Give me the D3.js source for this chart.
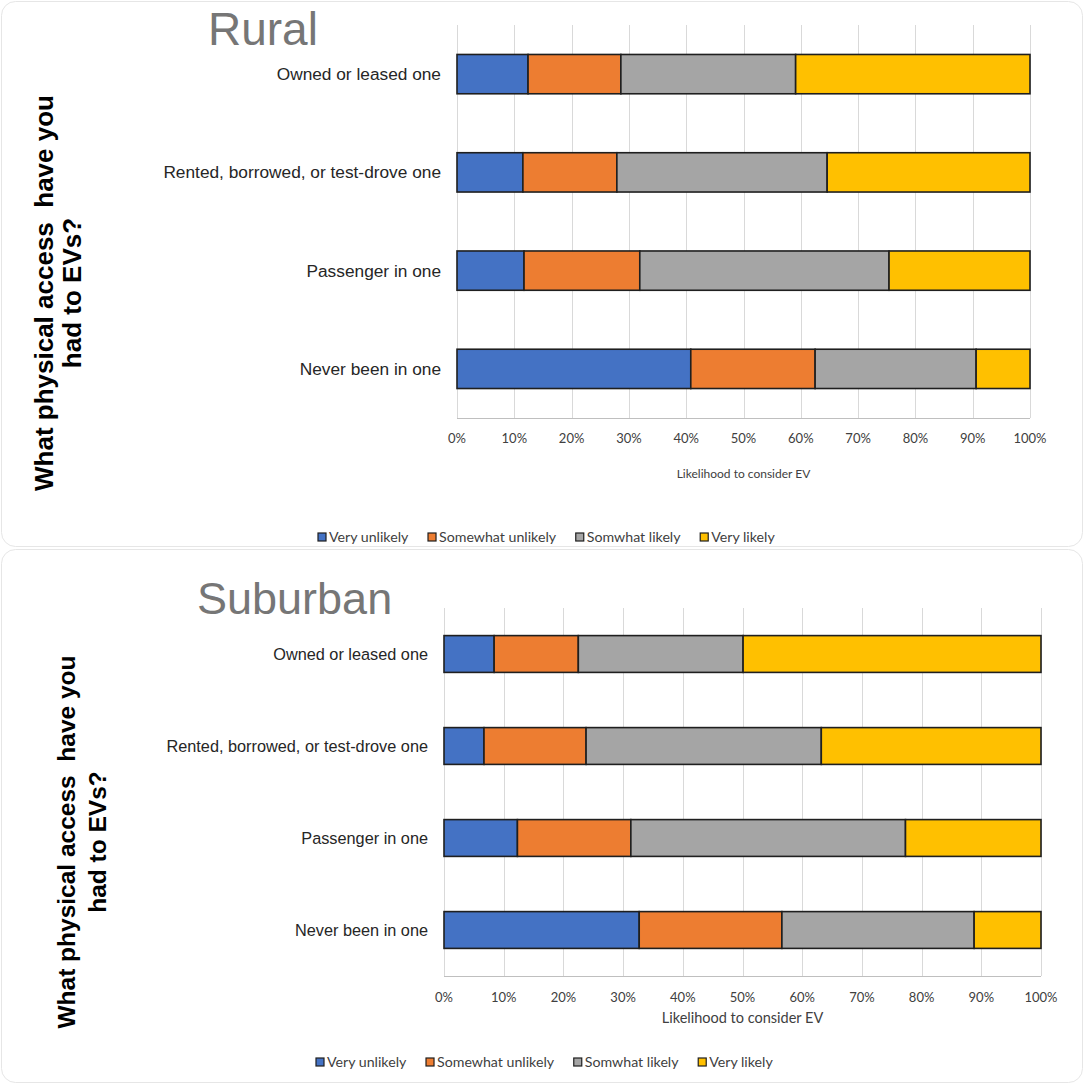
<!DOCTYPE html>
<html>
<head>
<meta charset="utf-8">
<script src="https://cdn.jsdelivr.net/npm/d3@7"></script>
<style>
  html, body { margin: 0; padding: 0; background: #fff; }
  svg { display: block; }
</style>
</head>
<body>
<svg id="chart" width="1084" height="1084"></svg>
<script>
// categories (top to bottom) and legend series
const categories = ["Owned or leased one", "Rented, borrowed, or test-drove one", "Passenger in one", "Never been in one"];
const seriesNames = ["Very unlikely", "Somewhat unlikely", "Somwhat likely", "Very likely"];
const seriesColors = ["#4472C4", "#ED7D31", "#A5A5A5", "#FFC000"];
const tickValues = [0, 0.1, 0.2, 0.3, 0.4, 0.5, 0.6, 0.7, 0.8, 0.9, 1];

// shares per category, in series order (percent)
const ruralValues = [
  [12.4, 16.2, 30.5, 40.9],
  [11.5, 16.4, 36.7, 35.4],
  [11.7, 20.2, 43.5, 24.6],
  [40.8, 21.7, 28.1, 9.4],
];
const suburbanValues = [
  [8.4, 14.1, 27.6, 49.9],
  [6.7, 17.1, 39.4, 36.8],
  [12.3, 19.0, 46.0, 22.7],
  [32.7, 23.9, 32.2, 11.2],
];

const svg = d3.select("#chart");

const panels = [
  {
    title: "Rural", values: ruralValues,
    box: [1, 1, 1081, 545],
    titleX: 208, titleY: 45, titleSize: 46,
    x0: 457, x1: 1030, y0: 25, y1: 418,
    catSize: 17.3, tickY: 443, axisTitleY: 478, axisTitleSize: 12,
    legendX: 318, legendY: 537,
    yTitle: { cy: 293, xs: [53, 81], size: 26 },
  },
  {
    title: "Suburban", values: suburbanValues,
    box: [1, 549, 1081, 533],
    titleX: 197, titleY: 614, titleSize: 45,
    x0: 444, x1: 1041, y0: 608, y1: 976,
    catSize: 16.3, tickY: 1002, axisTitleY: 1023, axisTitleSize: 14.5,
    legendX: 316, legendY: 1062,
    yTitle: { cy: 842, xs: [75, 106], size: 24.5 },
  },
];

panels.forEach((p) => drawPanel(p));

function drawPanel(p) {
  const g = svg.append("g");

  // panel frame
  g.append("rect")
    .attr("x", p.box[0] + 0.5).attr("y", p.box[1] + 0.5)
    .attr("width", p.box[2]).attr("height", p.box[3])
    .attr("rx", 14)
    .style("fill", "none").style("stroke", "#e6e6e6").style("stroke-width", 1);

  const x = d3.scaleLinear().domain([0, 1]).range([p.x0, p.x1]);
  const y = d3.scaleBand().domain(categories).range([p.y0, p.y1])
    .paddingInner(0.6).paddingOuter(0.3);

  // gridlines
  g.append("g").selectAll("line").data(tickValues).enter().append("line")
    .attr("x1", (d) => Math.round(x(d)) + 0.5).attr("x2", (d) => Math.round(x(d)) + 0.5)
    .attr("y1", p.y0).attr("y2", p.y1)
    .style("stroke", "#d9d9d9").style("stroke-width", 1);
  g.append("line")
    .attr("x1", p.x0).attr("x2", p.x1)
    .attr("y1", p.y1 + 0.5).attr("y2", p.y1 + 0.5)
    .style("stroke", "#bfbfbf").style("stroke-width", 1);

  // stacked bars
  const rows = categories.map((c, i) => {
    let acc = 0;
    return p.values[i].map((v, j) => {
      const seg = { cat: c, s: j, start: acc / 100, end: (acc + v) / 100 };
      acc += v;
      return seg;
    });
  });
  g.append("g").selectAll("g").data(rows).enter().append("g")
    .selectAll("rect").data((d) => d).enter().append("rect")
    .attr("x", (d) => x(d.start))
    .attr("y", (d) => y(d.cat))
    .attr("width", (d) => x(d.end) - x(d.start))
    .attr("height", y.bandwidth())
    .style("fill", (d) => seriesColors[d.s])
    .style("stroke", "#1f1f1f").style("stroke-width", 1.6);

  // category labels
  g.append("g").selectAll("text").data(categories).enter().append("text")
    .attr("x", p.x0 - 16)
    .attr("y", (d) => y(d) + y.bandwidth() / 2)
    .attr("dy", "0.35em")
    .attr("text-anchor", "end")
    .style("font-family", "'Liberation Sans', Arial, sans-serif")
    .style("font-size", p.catSize + "px")
    .style("fill", "#262626")
    .text((d) => d);

  // tick labels
  g.append("g").selectAll("text").data(tickValues).enter().append("text")
    .attr("x", (d) => x(d))
    .attr("y", p.tickY)
    .attr("text-anchor", "middle")
    .style("font-family", "Lato, 'Open Sans', sans-serif")
    .style("font-size", "13px")
    .style("fill", "#404040")
    .text(d3.format(".0%"));

  // x axis title
  g.append("text")
    .attr("x", (p.x0 + p.x1) / 2).attr("y", p.axisTitleY)
    .attr("text-anchor", "middle")
    .style("font-family", "Lato, 'Open Sans', sans-serif")
    .style("font-size", p.axisTitleSize + "px")
    .style("fill", "#404040")
    .text("Likelihood to consider EV");

  // chart title
  g.append("text")
    .attr("x", p.titleX).attr("y", p.titleY)
    .style("font-family", "'Liberation Sans', Arial, sans-serif")
    .style("font-size", p.titleSize + "px")
    .style("fill", "#767676")
    .text(p.title);

  // y axis title (two lines, rotated)
  const yt = ["What physical access  have you", "had to EVs?"];
  yt.forEach((line, i) => {
    g.append("text")
      .attr("transform", `translate(${p.yTitle.xs[i]},${p.yTitle.cy}) rotate(-90)`)
      .attr("text-anchor", "middle")
      .attr("xml:space", "preserve")
      .style("white-space", "pre")
      .style("font-family", "'Liberation Sans', Arial, sans-serif")
      .style("font-weight", "bold")
      .style("font-size", p.yTitle.size + "px")
      .style("fill", "#000")
      .text(line);
  });

  // legend
  const lg = g.append("g");
  const items = lg.selectAll("g").data(seriesNames).enter().append("g");
  items.append("rect")
    .attr("width", 8).attr("height", 8).attr("y", -4)
    .style("fill", (d, i) => seriesColors[i])
    .style("stroke", "#1f1f1f").style("stroke-width", 1.2);
  items.append("text")
    .attr("x", 11).attr("dy", "0.35em")
    .style("font-family", "Lato, 'Open Sans', sans-serif")
    .style("font-size", "14.2px")
    .style("fill", "#404040")
    .text((d) => d);
  let off = 0;
  const offs = [];
  items.each(function () {
    offs.push(off);
    off += this.getBBox().width + 19;
  });
  items.attr("transform", (d, i) => `translate(${p.legendX + offs[i]},${p.legendY})`);
}
</script>
</body>
</html>
